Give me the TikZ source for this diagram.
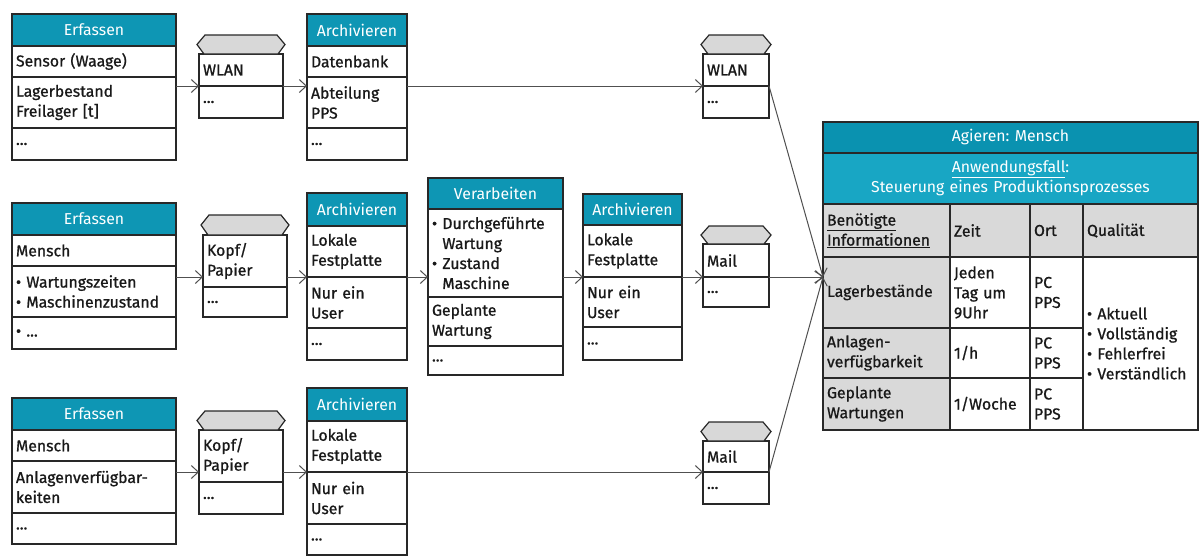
\documentclass[tikz,border=0pt]{standalone}
\usepackage{fontspec}
\setmainfont{Fira Sans}[FakeBold=0.9]
\newfontfamily\hfont{Fira Sans}
\usetikzlibrary{arrows.meta,calc}
\frenchspacing
\definecolor{hdrc}{RGB}{14,150,180}
\definecolor{tdark}{RGB}{10,146,176}
\definecolor{tlight}{RGB}{24,166,196}
\definecolor{grayc}{RGB}{217,217,217}
\definecolor{capc}{RGB}{216,216,216}
\definecolor{bordc}{RGB}{40,40,40}
\definecolor{linec}{RGB}{80,80,80}
\definecolor{txtc}{RGB}{25,25,25}
\newcommand\bx[7]{\pgfmathsetmacro\bxtw{#4-8}\node[#6,minimum width=#4pt,minimum height=#5pt,text width=\bxtw pt] (#1) at (#2,#3) {#7};}
\newcommand\capon[2]{\draw[capst] ($(#1.north west)+(5,0)$) -- ($(#1.north west)+(-2,-#2/2)$) -- ($(#1.north west)+(6,-#2)$) -- ($(#1.north east)+(-6,-#2)$) -- ($(#1.north east)+(2,-#2/2)$) -- ($(#1.north east)+(-5,0)$) -- cycle;}
\newcommand\ind{\hphantom{•\ }}
\begin{document}
\begin{tikzpicture}[x=1pt,y=-1pt,
  font=\fontsize{15.8}{20}\selectfont,
  base/.style={draw=bordc,line width=1.3pt,anchor=north west,inner xsep=4pt,inner ysep=1pt,outer sep=0pt},
  hdr/.style={base,fill=hdrc,text=white,align=center,font=\hfont\fontsize{15.8}{20}\selectfont},
  cell/.style={base,fill=white,text=txtc,align=left},
  gcell/.style={base,fill=grayc,text=txtc,align=left},
  thd/.style={base,fill=tdark,text=white,align=center,font=\hfont\fontsize{15.8}{20}\selectfont},
  thl/.style={base,fill=tlight,text=white,align=center,font=\hfont\fontsize{15.8}{20}\selectfont},
  capst/.style={draw=bordc,line width=1.2pt,fill=capc,line join=miter},
  arr/.style={draw=linec,line width=1pt,-{Straight Barb[length=7pt,width=13pt,line width=1pt]}}
]
\useasboundingbox[fill=white] (0,0) rectangle (1200,557);
% ---------- Row 1 ----------
\bx{e1h}{12}{14}{164}{32}{hdr}{Erfassen}
\bx{e1a}{12}{46}{164}{31}{cell}{Sensor (Waage)}
\bx{e1b}{12}{77}{164}{51}{cell}{Lagerbestand\\Freilager [t]}
\bx{e1c}{12}{128}{164}{32}{cell}{...}
\bx{w1a}{199}{54}{84}{32}{cell}{WLAN}
\bx{w1b}{199}{86}{84}{32}{cell}{...}
\capon{w1a}{19}
\bx{a1h}{307}{14}{100}{32}{hdr}{Archivieren}
\bx{a1a}{307}{46}{100}{31}{cell}{Datenbank}
\bx{a1b}{307}{77}{100}{51}{cell}{Abteilung\\PPS}
\bx{a1c}{307}{128}{100}{32}{cell}{...}
\bx{w2a}{703}{54}{66}{32}{cell}{WLAN}
\bx{w2b}{703}{86}{66}{32}{cell}{...}
\capon{w2a}{19}
% ---------- Row 2 ----------
\bx{e2h}{12}{203}{164}{32}{hdr}{Erfassen}
\bx{e2a}{12}{235}{164}{31}{cell}{Mensch}
\bx{e2b}{12}{266}{164}{51}{cell}{• Wartungszeiten\\• Maschinenzustand}
\bx{e2c}{12}{317}{164}{32}{cell}{• ...}
\bx{k2a}{203}{235}{84}{52}{cell}{Kopf/\\Papier}
\bx{k2b}{203}{287}{84}{30}{cell}{...}
\capon{k2a}{20}
\bx{a2h}{307}{193}{100}{33}{hdr}{Archivieren}
\bx{a2a}{307}{226}{100}{51}{cell}{Lokale\\Festplatte}
\bx{a2b}{307}{277}{100}{51}{cell}{Nur ein\\User}
\bx{a2c}{307}{328}{100}{32}{cell}{...}
\bx{vh}{428}{178}{135}{31}{hdr}{Verarbeiten}
\bx{va}{428}{209}{135}{88}{cell}{• Durchgeführte\\\ind Wartung\\• Zustand\\\ind Maschine}
\bx{vb}{428}{297}{135}{49}{cell}{Geplante\\Wartung}
\bx{vc}{428}{346}{135}{29}{cell}{...}
\bx{a3h}{583}{194}{99}{31}{hdr}{Archivieren}
\bx{a3a}{583}{225}{99}{52}{cell}{Lokale\\Festplatte}
\bx{a3b}{583}{277}{99}{50}{cell}{Nur ein\\User}
\bx{a3c}{583}{327}{99}{33}{cell}{...}
\bx{m1a}{703}{244}{66}{33}{cell}{Mail}
\bx{m1b}{703}{277}{66}{30}{cell}{...}
\capon{m1a}{18}
% ---------- Row 3 ----------
\bx{e3h}{12}{398}{164}{32}{hdr}{Erfassen}
\bx{e3a}{12}{430}{164}{31}{cell}{Mensch}
\bx{e3b}{12}{461}{164}{52}{cell}{Anlagenverfügbar-\\keiten}
\bx{e3c}{12}{513}{164}{31}{cell}{...}
\bx{k3a}{199}{430}{84}{52}{cell}{Kopf/\\Papier}
\bx{k3b}{199}{482}{84}{32}{cell}{...}
\capon{k3a}{19}
\bx{a4h}{307}{388}{100}{33}{hdr}{Archivieren}
\bx{a4a}{307}{421}{100}{51}{cell}{Lokale\\Festplatte}
\bx{a4b}{307}{472}{100}{52}{cell}{Nur ein\\User}
\bx{a4c}{307}{524}{100}{31}{cell}{...}
\bx{m2a}{703}{441}{66}{31}{cell}{Mail}
\bx{m2b}{703}{472}{66}{32}{cell}{...}
\capon{m2a}{19}
% ---------- Table ----------
\bx{t1}{823}{122}{375}{31}{thd}{Agieren: Mensch}
\bx{t2}{823}{153}{375}{51}{thl}{\underline{Anwendungsfall}:\\Steuerung eines Produktionsprozesses}
\bx{th1}{823}{204}{127}{53}{gcell}{\underline{Benötigte}\\\underline{Informationen}}
\bx{th2}{950}{204}{80}{53}{gcell}{Zeit}
\bx{th3}{1030}{204}{53}{53}{gcell}{Ort}
\bx{th4}{1083}{204}{115}{53}{gcell}{Qualität}
\bx{r1a}{823}{257}{127}{71}{gcell}{Lagerbestände}
\bx{r1b}{950}{257}{80}{71}{cell}{Jeden\\Tag um\\9Uhr}
\bx{r1c}{1030}{257}{53}{71}{cell}{PC\\PPS}
\bx{r2a}{823}{328}{127}{50}{gcell}{Anlagen-\\verfügbarkeit}
\bx{r2b}{950}{328}{80}{50}{cell}{1/h}
\bx{r2c}{1030}{328}{53}{50}{cell}{PC\\PPS}
\bx{r3a}{823}{378}{127}{52}{gcell}{Geplante\\Wartungen}
\bx{r3b}{950}{378}{80}{52}{cell}{1/Woche}
\bx{r3c}{1030}{378}{53}{52}{cell}{PC\\PPS}
\bx{qa}{1083}{257}{115}{173}{cell}{• Aktuell\\• Vollständig\\• Fehlerfrei\\• Verständlich}
\coordinate (conv) at (823,277);
% ---------- Connectors ----------
\draw[arr] (e1b.east |- w1a.south west) -- (w1a.south west);
\draw[arr] (w1a.south east) -- (a1b.west |- w1a.south east);
\draw[arr] (a1b.east |- w2a.south west) -- (w2a.south west);
\draw[arr] (w2a.south east) -- (conv);
\draw[arr] (e2b.east |- a2a.south west) -- (k2a.west |- a2a.south west);
\draw[arr] (k2a.east |- a2a.south west) -- (a2a.south west);
\draw[arr] (a2a.south east) -- (va.west |- a2a.south east);
\draw[arr] (va.east |- a2a.south east) -- (a3a.south west);
\draw[arr] (a3a.south east) -- (m1a.south west);
\draw[arr] (m1a.south east) -- (conv);
\draw[arr] (e3b.east |- a4a.south west) -- (k3a.west |- a4a.south west);
\draw[arr] (k3a.east |- a4a.south west) -- (a4a.south west);
\draw[arr] (a4a.south east) -- (m2a.south west);
\draw[arr] (m2a.south east) -- (conv);
\end{tikzpicture}
\end{document}
